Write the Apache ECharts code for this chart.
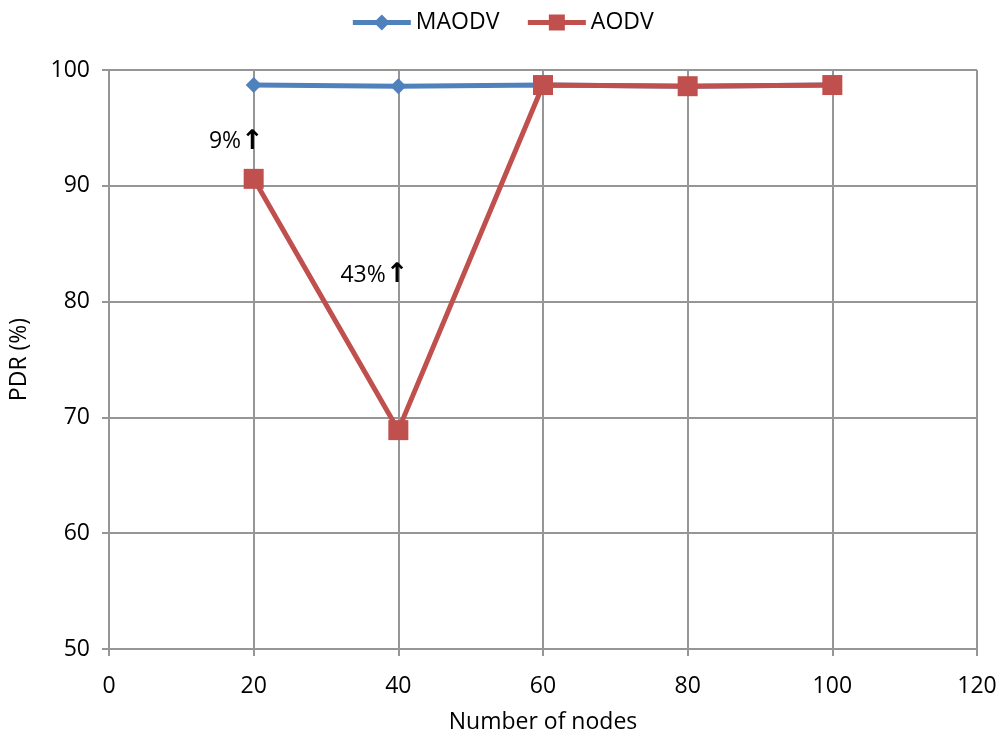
<!DOCTYPE html>
<html><head><meta charset="utf-8">
<script src="https://cdn.jsdelivr.net/npm/echarts@6/dist/echarts.min.js"></script>
<style>html,body{margin:0;padding:0;background:#fff}#c{width:1004px;height:743px}</style>
</head><body><div id="c"></div>
<script>
const nodes = [20, 40, 60, 80, 100];
const maodv = [98.7, 98.6, 98.7, 98.6, 98.7];
const aodv = [90.6, 68.9, 98.7, 98.6, 98.7];
const annotations = [
  { x: 20, y: 93.8, pct: '9%' },
  { x: 40, y: 82.3, pct: '43%' }
];
const font = '"Open Sans", Lato, sans-serif';
const fs = 23;
const chart = echarts.init(document.getElementById('c'));
chart.setOption({
  animation: false,
  textStyle: { fontFamily: font },
  legend: {
    top: 6, left: 'center', itemWidth: 58, itemHeight: 20, itemGap: 26,
    lineStyle: { width: 5 },
    textStyle: { fontSize: fs, color: '#000', fontFamily: font },
    data: ['MAODV', 'AODV']
  },
  grid: { left: 109, right: 27, top: 70, bottom: 94 },
  xAxis: {
    type: 'value', min: 0, max: 120, interval: 20,
    name: 'Number of nodes', nameLocation: 'middle', nameGap: 62,
    nameTextStyle: { fontSize: fs, color: '#000', fontFamily: font },
    axisLine: { lineStyle: { color: '#969696', width: 2 } },
    axisTick: { show: true, length: 7, lineStyle: { color: '#969696', width: 2 } },
    axisLabel: { fontSize: fs, color: '#000', margin: 26, fontFamily: font },
    splitLine: { show: true, lineStyle: { color: '#969696', width: 2 } }
  },
  yAxis: {
    type: 'value', min: 50, max: 100, interval: 10,
    name: 'PDR (%)', nameLocation: 'middle', nameGap: 78, nameRotate: 90,
    nameTextStyle: { fontSize: fs, color: '#000', fontFamily: font },
    axisLine: { show: true, lineStyle: { color: '#969696', width: 2 } },
    axisTick: { show: true, length: 7, lineStyle: { color: '#969696', width: 2 } },
    axisLabel: { fontSize: fs, color: '#000', margin: 19, fontFamily: font },
    splitLine: { show: true, lineStyle: { color: '#969696', width: 2 } }
  },
  series: [
    {
      name: 'MAODV', type: 'line',
      data: nodes.map((x, i) => [x, maodv[i]]),
      symbol: 'diamond', symbolSize: 16,
      itemStyle: { color: '#4F81BD' },
      lineStyle: { color: '#4F81BD', width: 5 },
      markPoint: {
        symbol: 'circle', symbolSize: 0,
        data: annotations.map(a => ({
          coord: [a.x, a.y],
          label: {
            show: true, position: 'left', distance: 0, offset: [10, 0],
            formatter: '{a|' + a.pct + '}{b|↑}',
            rich: {
              a: { fontSize: fs, color: '#000', fontFamily: font },
              b: { fontSize: 27, color: '#000', fontWeight: 'bold', fontFamily: 'DejaVu Sans' }
            }
          }
        }))
      }
    },
    {
      name: 'AODV', type: 'line',
      data: nodes.map((x, i) => [x, aodv[i]]),
      symbol: 'rect', symbolSize: 20,
      itemStyle: { color: '#C0504D' },
      lineStyle: { color: '#C0504D', width: 5 }
    }
  ]
});
</script></body></html>
